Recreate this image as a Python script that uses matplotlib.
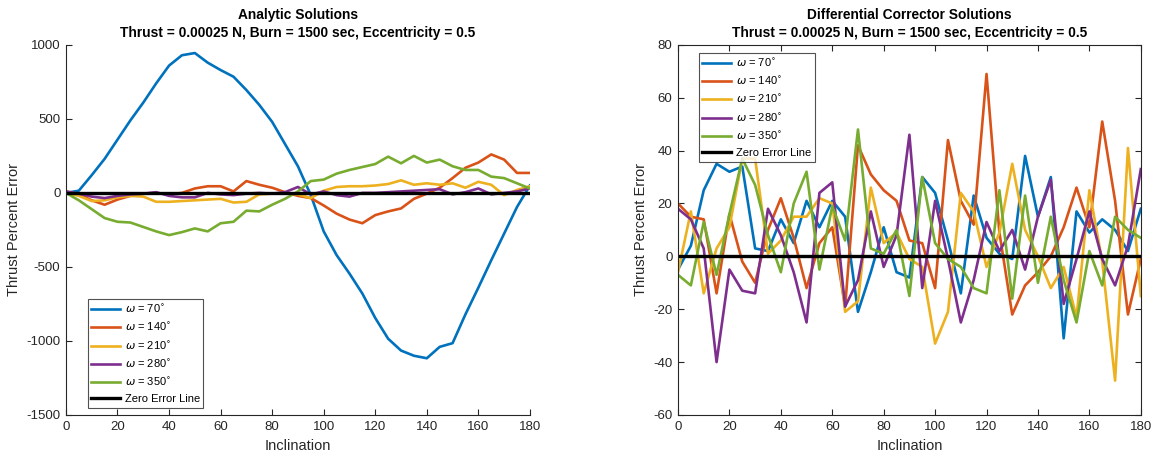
import numpy as np
import matplotlib
matplotlib.use("Agg")
import matplotlib.pyplot as plt

plt.rcParams['font.family'] = ['Liberation Sans', 'DejaVu Sans']
plt.rcParams['mathtext.fontset'] = 'dejavusans'
plt.rcParams['axes.unicode_minus'] = False
plt.rcParams['legend.fancybox'] = False

inclination = np.arange(0, 181, 5)
omegas = [70, 140, 210, 280, 350]
colors = ['#0072BD', '#D95319', '#EDB120', '#7E2F8E', '#77AC30']

# Analytic solutions: thrust percent error per argument of periapsis
analytic_w70 = [0, 15, 120, 230, 360, 490, 610, 740, 860, 930, 945, 880, 830, 785, 695,
                595, 480, 330, 180, -15, -260, -420, -545, -680, -845, -985, -1065, -1100,
                -1117, -1040, -1015, -820, -640, -455, -275, -95, 50]
analytic_w140 = [10, -10, -50, -80, -45, -20, -5, 0, -10, 0, 30, 45, 45, 10, 80,
                 55, 35, 5, -20, -35, -85, -140, -180, -205, -150, -125, -105, -40,
                 -5, 35, 100, 170, 205, 260, 225, 135, 135]
analytic_w210 = [0, -20, -55, -50, -30, -20, -25, -60, -60, -55, -50, -45, -40, -65, -60,
                 -10, -5, 0, -10, -35, 15, 40, 45, 45, 50, 60, 85, 55,
                 65, 55, 65, 35, 75, 55, -15, 20, 45]
analytic_w280 = [10, -5, -25, -35, -20, -10, -5, 5, -20, -30, -30, 0, -10, -15, -5,
                 0, -5, 5, 40, -10, 10, -15, -25, 0, 0, 5, 10, 15,
                 20, 25, -10, 5, 30, -10, 0, 10, 30]
analytic_w350 = [0, -50, -110, -170, -195, -200, -230, -260, -285, -265, -240, -260, -205,
                 -195, -120, -125, -80, -40, 10, 80, 90, 130, 155, 175, 195, 245, 200,
                 250, 205, 225, 180, 155, 155, 110, 100, 65, 30]

# Differential corrector solutions
dc_w70 = [-5, 4, 25, 35, 32, 34, 3, 2, 14, 5, 21, 11, 21, 15, -21, -6, 11, -6, -8,
          30, 24, 6, -14, 23, 7, 1, -1, 38, 15, 30, -31, 17, 9, 14, 10, 2, 18]
dc_w140 = [20, 15, 14, -14, 16, -2, -10, 10, 22, 7, -12, 5, 11, -19, 42, 31, 25, 21, 6,
           5, -12, 44, 21, 12, 69, 9, -22, -11, -6, 0, 11, 26, 11, 51, 21, -22, -1]
dc_w210 = [-6, 17, -14, 3, 11, 37, 37, 1, 6, 15, 15, 22, 20, -21, -17, 26, 5, 9, -1,
           -4, -33, -21, 24, 17, -4, 9, 35, 10, 0, -12, -4, -23, 25, -2, -47, 41, -15]
dc_w280 = [18, 14, 3, -40, -5, -13, -14, 18, 8, -6, -25, 24, 28, -19, -9, 17, -4, 8, 46,
           -12, 21, -1, -25, -9, 13, 2, 10, -5, 15, 29, -18, -1, 17, -1, -11, 4, 33]
dc_w350 = [-7, -11, 13, -7, 16, 37, 27, 8, -6, 20, 32, -5, 19, 6, 48, 3, 1, 10, -15,
           30, 5, -1, -4, -12, -14, 25, -16, 23, -10, 15, -9, -25, 2, -11, 15, 10, 7]

analytic = [analytic_w70, analytic_w140, analytic_w210, analytic_w280, analytic_w350]
corrector = [dc_w70, dc_w140, dc_w210, dc_w280, dc_w350]

title_line2 = 'Thrust = 0.00025 N, Burn = 1500 sec, Eccentricity = 0.5'
panels = [
    ('Analytic Solutions', analytic, (-1500, 1000), np.arange(-1500, 1001, 500), False),
    ('Differential Corrector Solutions', corrector, (-60, 80), np.arange(-60, 81, 20), True),
]

fig = plt.figure(figsize=(11.57, 4.58), dpi=100)
axes_rects = [[0.057, 0.094, 0.401, 0.808], [0.586, 0.094, 0.400, 0.808]]
tick_color = '#262626'
legend_style = dict(borderaxespad=0, prop={'size': 8}, handlelength=2.6,
                    handletextpad=0.4, labelspacing=0.56, borderpad=0.32)

for rect, (name, series, ylim, yticks, boxed) in zip(axes_rects, panels):
    ax = fig.add_axes(rect)
    for vals, w, c in zip(series, omegas, colors):
        ax.plot(inclination, vals, color=c, lw=1.9,
                label=r'$\omega$ = %d$^{\circ}$' % w)
    ax.plot([0, 180], [0, 0], color='black', lw=2.4, label='Zero Error Line')
    ax.set_xlim(0, 180)
    ax.set_ylim(*ylim)
    ax.set_xticks(np.arange(0, 181, 20))
    ax.set_yticks(yticks)
    ax.tick_params(direction='in', length=4, width=0.8, colors=tick_color,
                   labelsize=9.5, top=boxed, right=boxed, pad=4)
    for side in ['left', 'bottom', 'top', 'right']:
        ax.spines[side].set_color(tick_color)
        ax.spines[side].set_linewidth(0.8)
    if not boxed:
        ax.spines['top'].set_visible(False)
        ax.spines['right'].set_visible(False)
    ax.set_xlabel('Inclination', fontsize=10.5, color=tick_color, labelpad=5)
    ax.set_ylabel('Thrust Percent Error', fontsize=10.5, color=tick_color, labelpad=4)
    ax.set_title(name + '\n' + title_line2, fontsize=9.9, fontweight='bold',
                 linespacing=1.3, pad=6)
    if boxed:
        leg = ax.legend(loc='upper left', bbox_to_anchor=(0.045, 0.978), **legend_style)
    else:
        leg = ax.legend(loc='lower left', bbox_to_anchor=(0.047, 0.019), **legend_style)
    leg.get_frame().set_edgecolor(tick_color)
    leg.get_frame().set_linewidth(0.8)

fig.savefig('out.png', dpi=100, facecolor='white')
